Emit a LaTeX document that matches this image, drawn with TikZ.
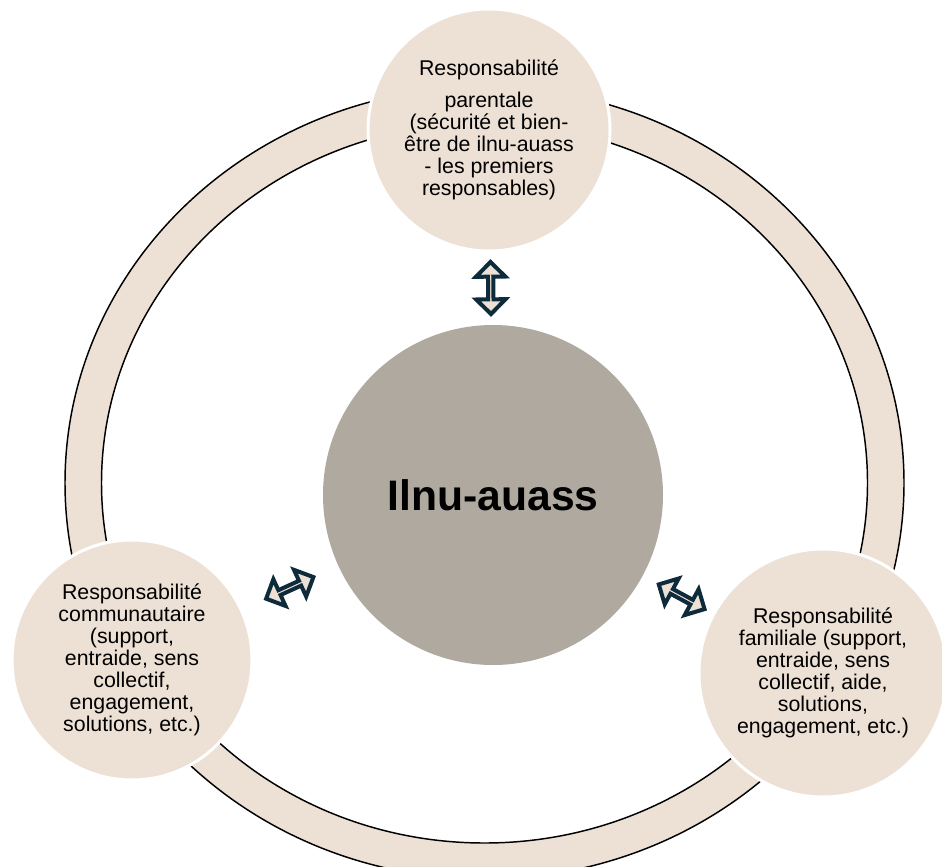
\documentclass[tikz,border=0pt]{standalone}
\usepackage{fontspec}
\setmainfont{Liberation Sans}
\usetikzlibrary{shapes.arrows, positioning}
\definecolor{sand}{HTML}{EDE0D5}
\definecolor{stone}{HTML}{AFA99F}
\definecolor{ink}{HTML}{0E2B3B}

\begin{document}
\begin{tikzpicture}[x=0.75pt, y=-0.75pt]
\useasboundingbox (0,0) rectangle (942,867);

% ring
\path[fill=sand, draw=black, line width=1.1pt, even odd rule]
    (484.5,483) ellipse [x radius=419.5, y radius=396]
    (484.5,483) ellipse [x radius=383, y radius=360];

\begin{scope}[every node/.style={shape=circle, align=center, inner sep=0pt,
    fill=sand, draw=white, line width=2.25pt,
    font=\fontsize{16}{16.5}\selectfont}]
    \node[fill=stone, draw=none, minimum size=255pt,
        font=\fontsize{32}{34}\selectfont\bfseries] (a) at (493,495) {Ilnu-auass};
    \node[minimum size=181.5pt] (b) at (489,130) {Responsabilité\\[7.5pt]
        parentale\\(sécurité et bien-\\être de ilnu-auass\\- les premiers\\responsables)};
    \node[minimum size=180pt] (c) at (132,660) {Responsabilité\\communautaire\\(support,\\
        entraide, sens\\collectif,\\engagement,\\solutions, etc.)};
    \node[minimum size=186pt] (d) at (823,673) {Responsabilité\\familiale (support,\\
        entraide, sens\\collectif, aide,\\solutions,\\engagement, etc.)};
\end{scope}

\begin{scope}[every node/.style={shape=double arrow, sloped, inner sep=0pt,
    fill=sand, draw=ink, line width=3pt,
    minimum height=39pt, minimum width=22pt, double arrow head extend=6.8pt}]
    \path (b) -- node {} (a);
    \path (a) -- node {} (c);
    \path (a) -- node[pos=0.55] {} (d);
\end{scope}
\end{tikzpicture}
\end{document}
